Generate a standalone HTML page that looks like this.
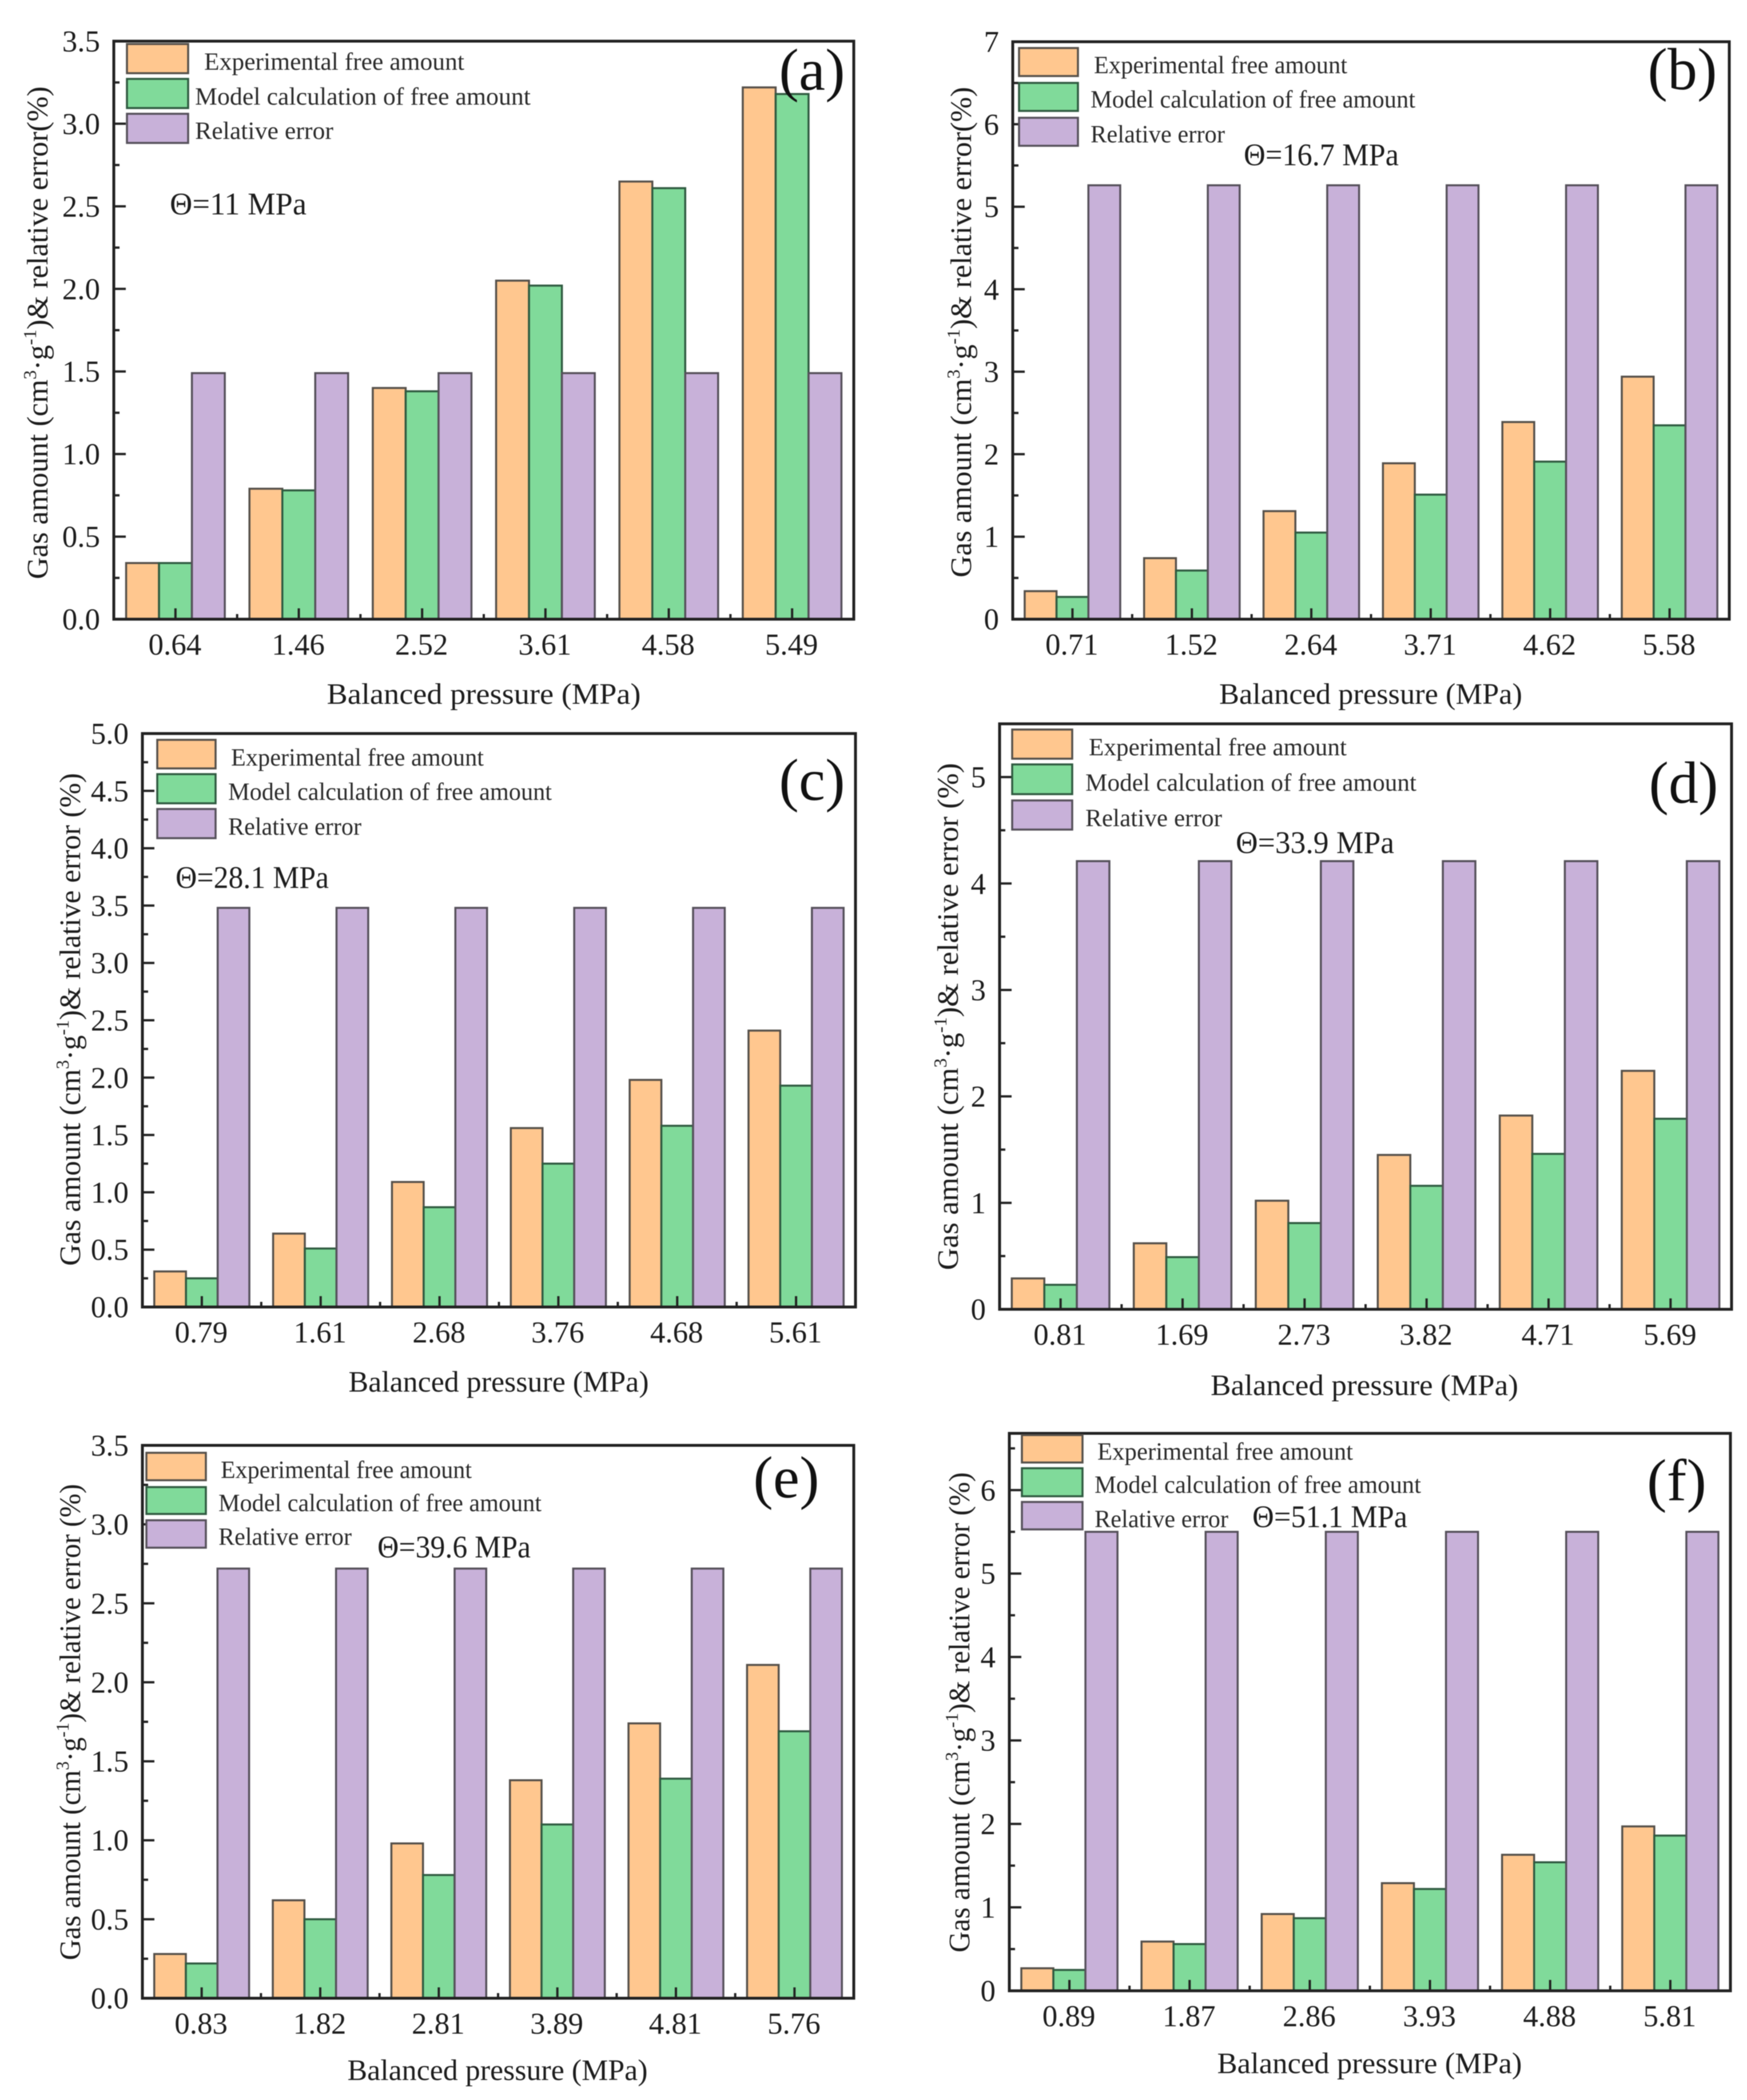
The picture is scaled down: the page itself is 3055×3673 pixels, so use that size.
<!DOCTYPE html>
<html lang="en">
<head>
<meta charset="utf-8">
<title>Gas amount and relative error versus balanced pressure</title>
<style>
html,body{margin:0;padding:0;background:#fff;}
svg{display:block;filter:blur(0.9px);}
text{font-family:"Liberation Serif","Times New Roman",serif;fill:#1c1c1c;}
.tick-label{font-size:53px;}
.axis-title{font-size:52px;}
.legend-text{font-size:43px;fill:#2a2a2a;}
.theta{font-size:55px;}
.panel-label{font-size:104px;fill:#111;}
.sup{font-size:32px;}
.exp{fill:#FFC78F;stroke:#55504a;stroke-width:3.5;}
.mod{fill:#80DA9A;stroke:#2f5a40;stroke-width:3.5;}
.err{fill:#C8B1D9;stroke:#55505a;stroke-width:3.5;}
.frame{fill:none;stroke:#222;stroke-width:5;}
.tick{stroke:#222;stroke-width:4;}
</style>
</head>
<body>
<svg id="figure" xmlns="http://www.w3.org/2000/svg" width="3055" height="3673" viewBox="0 0 3055 3673">
<rect width="3055" height="3673" fill="#fff"/>

<g>
<g id="marks-a"></g>
<g>
<rect class="exp" x="222" y="77" width="107" height="51"/>
<rect class="mod" x="222" y="138" width="107" height="51"/>
<rect class="err" x="222" y="199" width="107" height="51"/>
<text class="legend-text" x="357" y="122" textLength="455" lengthAdjust="spacingAndGlyphs">Experimental free amount</text>
<text class="legend-text" x="341" y="183" textLength="587" lengthAdjust="spacingAndGlyphs">Model calculation of free amount</text>
<text class="legend-text" x="341" y="243" textLength="242" lengthAdjust="spacingAndGlyphs">Relative error</text>
</g>
<text class="theta" x="297" y="375" textLength="239" lengthAdjust="spacingAndGlyphs">Θ=11 MPa</text>
<text class="panel-label" x="1420" y="157" text-anchor="middle">(a)</text>
<text class="axis-title" x="846" y="1231" text-anchor="middle" textLength="549" lengthAdjust="spacingAndGlyphs">Balanced pressure (MPa)</text>
<text class="axis-title" transform="translate(83,582) rotate(-90)" text-anchor="middle" textLength="862" lengthAdjust="spacingAndGlyphs">Gas amount (cm<tspan class="sup" dy="-20">3</tspan><tspan dy="20">·g</tspan><tspan class="sup" dy="-20">-1</tspan><tspan dy="20">)&amp; relative error(%)</tspan></text>
</g>

<g>
<g id="marks-b"></g>
<g>
<rect class="exp" x="1782" y="84" width="103" height="49"/>
<rect class="mod" x="1782" y="145" width="103" height="49"/>
<rect class="err" x="1782" y="206" width="103" height="49"/>
<text class="legend-text" x="1913" y="128" textLength="443" lengthAdjust="spacingAndGlyphs">Experimental free amount</text>
<text class="legend-text" x="1907" y="188" textLength="568" lengthAdjust="spacingAndGlyphs">Model calculation of free amount</text>
<text class="legend-text" x="1907" y="249" textLength="235" lengthAdjust="spacingAndGlyphs">Relative error</text>
</g>
<text class="theta" x="2175" y="289" textLength="271" lengthAdjust="spacingAndGlyphs">Θ=16.7 MPa</text>
<text class="panel-label" x="2942" y="156" text-anchor="middle">(b)</text>
<text class="axis-title" x="2397" y="1231" text-anchor="middle" textLength="530" lengthAdjust="spacingAndGlyphs">Balanced pressure (MPa)</text>
<text class="axis-title" transform="translate(1698,581) rotate(-90)" text-anchor="middle" textLength="858" lengthAdjust="spacingAndGlyphs">Gas amount (cm<tspan class="sup" dy="-20">3</tspan><tspan dy="20">·g</tspan><tspan class="sup" dy="-20">-1</tspan><tspan dy="20">)&amp; relative error(%)</tspan></text>
</g>

<g>
<g id="marks-c"></g>
<g>
<rect class="exp" x="275" y="1294" width="102" height="50"/>
<rect class="mod" x="275" y="1354" width="102" height="51"/>
<rect class="err" x="275" y="1415" width="102" height="51"/>
<text class="legend-text" x="404" y="1339" textLength="442" lengthAdjust="spacingAndGlyphs">Experimental free amount</text>
<text class="legend-text" x="399" y="1399" textLength="566" lengthAdjust="spacingAndGlyphs">Model calculation of free amount</text>
<text class="legend-text" x="399" y="1460" textLength="233" lengthAdjust="spacingAndGlyphs">Relative error</text>
</g>
<text class="theta" x="307" y="1553" textLength="268" lengthAdjust="spacingAndGlyphs">Θ=28.1 MPa</text>
<text class="panel-label" x="1420" y="1399" text-anchor="middle">(c)</text>
<text class="axis-title" x="872" y="2434" text-anchor="middle" textLength="525" lengthAdjust="spacingAndGlyphs">Balanced pressure (MPa)</text>
<text class="axis-title" transform="translate(140,1783) rotate(-90)" text-anchor="middle" textLength="862" lengthAdjust="spacingAndGlyphs">Gas amount (cm<tspan class="sup" dy="-20">3</tspan><tspan dy="20">·g</tspan><tspan class="sup" dy="-20">-1</tspan><tspan dy="20">)&amp; relative error (%)</tspan></text>
</g>

<g>
<g id="marks-d"></g>
<g>
<rect class="exp" x="1770" y="1276" width="105" height="51"/>
<rect class="mod" x="1770" y="1337" width="105" height="52"/>
<rect class="err" x="1770" y="1400" width="105" height="51"/>
<text class="legend-text" x="1904" y="1321" textLength="451" lengthAdjust="spacingAndGlyphs">Experimental free amount</text>
<text class="legend-text" x="1898" y="1383" textLength="579" lengthAdjust="spacingAndGlyphs">Model calculation of free amount</text>
<text class="legend-text" x="1898" y="1445" textLength="239" lengthAdjust="spacingAndGlyphs">Relative error</text>
</g>
<text class="theta" x="2161" y="1492" textLength="277" lengthAdjust="spacingAndGlyphs">Θ=33.9 MPa</text>
<text class="panel-label" x="2944" y="1404" text-anchor="middle">(d)</text>
<text class="axis-title" x="2386" y="2440" text-anchor="middle" textLength="538" lengthAdjust="spacingAndGlyphs">Balanced pressure (MPa)</text>
<text class="axis-title" transform="translate(1675,1778) rotate(-90)" text-anchor="middle" textLength="887" lengthAdjust="spacingAndGlyphs">Gas amount (cm<tspan class="sup" dy="-20">3</tspan><tspan dy="20">·g</tspan><tspan class="sup" dy="-20">-1</tspan><tspan dy="20">)&amp; relative error (%)</tspan></text>
</g>

<g>
<g id="marks-e"></g>
<g>
<rect class="exp" x="256" y="2541" width="104" height="48"/>
<rect class="mod" x="256" y="2601" width="104" height="47"/>
<rect class="err" x="256" y="2659" width="104" height="48"/>
<text class="legend-text" x="386" y="2585" textLength="439" lengthAdjust="spacingAndGlyphs">Experimental free amount</text>
<text class="legend-text" x="382" y="2643" textLength="565" lengthAdjust="spacingAndGlyphs">Model calculation of free amount</text>
<text class="legend-text" x="382" y="2702" textLength="233" lengthAdjust="spacingAndGlyphs">Relative error</text>
</g>
<text class="theta" x="660" y="2724" textLength="268" lengthAdjust="spacingAndGlyphs">Θ=39.6 MPa</text>
<text class="panel-label" x="1375" y="2619" text-anchor="middle">(e)</text>
<text class="axis-title" x="870" y="3638" text-anchor="middle" textLength="525" lengthAdjust="spacingAndGlyphs">Balanced pressure (MPa)</text>
<text class="axis-title" transform="translate(140,3012) rotate(-90)" text-anchor="middle" textLength="833" lengthAdjust="spacingAndGlyphs">Gas amount (cm<tspan class="sup" dy="-20">3</tspan><tspan dy="20">·g</tspan><tspan class="sup" dy="-20">-1</tspan><tspan dy="20">)&amp; relative error (%)</tspan></text>
</g>

<g>
<g id="marks-f"></g>
<g>
<rect class="exp" x="1787" y="2510" width="106" height="48"/>
<rect class="mod" x="1787" y="2568" width="106" height="49"/>
<rect class="err" x="1787" y="2627" width="106" height="48"/>
<text class="legend-text" x="1919" y="2553" textLength="447" lengthAdjust="spacingAndGlyphs">Experimental free amount</text>
<text class="legend-text" x="1914" y="2611" textLength="571" lengthAdjust="spacingAndGlyphs">Model calculation of free amount</text>
<text class="legend-text" x="1914" y="2671" textLength="234" lengthAdjust="spacingAndGlyphs">Relative error</text>
</g>
<text class="theta" x="2190" y="2671" textLength="271" lengthAdjust="spacingAndGlyphs">Θ=51.1 MPa</text>
<text class="panel-label" x="2932" y="2624" text-anchor="middle">(f)</text>
<text class="axis-title" x="2395" y="3626" text-anchor="middle" textLength="533" lengthAdjust="spacingAndGlyphs">Balanced pressure (MPa)</text>
<text class="axis-title" transform="translate(1695,2995) rotate(-90)" text-anchor="middle" textLength="840" lengthAdjust="spacingAndGlyphs">Gas amount (cm<tspan class="sup" dy="-20">3</tspan><tspan dy="20">·g</tspan><tspan class="sup" dy="-20">-1</tspan><tspan dy="20">)&amp; relative error (%)</tspan></text>
</g>
</svg>

<script>
// Panel (a)
const pressuresA = ['0.64', '1.46', '2.52', '3.61', '4.58', '5.49'];
const experimentalA = [0.34, 0.79, 1.40, 2.05, 2.65, 3.22];
const modelA = [0.34, 0.78, 1.38, 2.02, 2.61, 3.18];
const errorA = [1.49, 1.49, 1.49, 1.49, 1.49, 1.49];
const yTicksA = ['0.0', '0.5', '1.0', '1.5', '2.0', '2.5', '3.0', '3.5'];
// Panel (b)
const pressuresB = ['0.71', '1.52', '2.64', '3.71', '4.62', '5.58'];
const experimentalB = [0.34, 0.74, 1.31, 1.89, 2.39, 2.94];
const modelB = [0.27, 0.59, 1.05, 1.51, 1.91, 2.35];
const errorB = [5.26, 5.26, 5.26, 5.26, 5.26, 5.26];
const yTicksB = ['0', '1', '2', '3', '4', '5', '6', '7'];
// Panel (c)
const pressuresC = ['0.79', '1.61', '2.68', '3.76', '4.68', '5.61'];
const experimentalC = [0.31, 0.64, 1.09, 1.56, 1.98, 2.41];
const modelC = [0.25, 0.51, 0.87, 1.25, 1.58, 1.93];
const errorC = [3.48, 3.48, 3.48, 3.48, 3.48, 3.48];
const yTicksC = ['0.0', '0.5', '1.0', '1.5', '2.0', '2.5', '3.0', '3.5', '4.0', '4.5', '5.0'];
// Panel (d)
const pressuresD = ['0.81', '1.69', '2.73', '3.82', '4.71', '5.69'];
const experimentalD = [0.29, 0.62, 1.02, 1.45, 1.82, 2.24];
const modelD = [0.23, 0.49, 0.81, 1.16, 1.46, 1.79];
const errorD = [4.21, 4.21, 4.21, 4.21, 4.21, 4.21];
const yTicksD = ['0', '1', '2', '3', '4', '5'];
// Panel (e)
const pressuresE = ['0.83', '1.82', '2.81', '3.89', '4.81', '5.76'];
const experimentalE = [0.28, 0.62, 0.98, 1.38, 1.74, 2.11];
const modelE = [0.22, 0.50, 0.78, 1.10, 1.39, 1.69];
const errorE = [2.72, 2.72, 2.72, 2.72, 2.72, 2.72];
const yTicksE = ['0.0', '0.5', '1.0', '1.5', '2.0', '2.5', '3.0', '3.5'];
// Panel (f)
const pressuresF = ['0.89', '1.87', '2.86', '3.93', '4.88', '5.81'];
const experimentalF = [0.27, 0.59, 0.92, 1.29, 1.63, 1.97];
const modelF = [0.25, 0.56, 0.87, 1.22, 1.54, 1.86];
const errorF = [5.50, 5.50, 5.50, 5.50, 5.50, 5.50];
const yTicksF = ['0', '1', '2', '3', '4', '5', '6'];

const SVG_NS = 'http://www.w3.org/2000/svg';

const panels = [
  {id: 'a', left: 199, right: 1493, top: 72, bottom: 1083, yMax: 3.5, minorStep: 0.25, cats: pressuresA, exp: experimentalA, mod: modelA, err: errorA, ticks: yTicksA},
  {id: 'b', left: 1771, right: 3024, top: 73, bottom: 1083, yMax: 7, minorStep: 0.5, cats: pressuresB, exp: experimentalB, mod: modelB, err: errorB, ticks: yTicksB},
  {id: 'c', left: 249, right: 1496, top: 1283, bottom: 2286, yMax: 5, minorStep: 0.25, cats: pressuresC, exp: experimentalC, mod: modelC, err: errorC, ticks: yTicksC},
  {id: 'd', left: 1748, right: 3028, top: 1266, bottom: 2290, yMax: 5.5, minorStep: 0.5, cats: pressuresD, exp: experimentalD, mod: modelD, err: errorD, ticks: yTicksD},
  {id: 'e', left: 249, right: 1493, top: 2528, bottom: 3495, yMax: 3.5, minorStep: 0.25, cats: pressuresE, exp: experimentalE, mod: modelE, err: errorE, ticks: yTicksE},
  {id: 'f', left: 1765, right: 3026, top: 2507, bottom: 3482, yMax: 6.68, minorStep: 0.5, cats: pressuresF, exp: experimentalF, mod: modelF, err: errorF, ticks: yTicksF}
];

function make(tag, attrs) {
  const el = document.createElementNS(SVG_NS, tag);
  for (const k in attrs) el.setAttribute(k, attrs[k]);
  return el;
}

function drawPanel(p) {
  const root = document.getElementById('marks-' + p.id);
  const yScale = function (v) { return p.bottom - (v / p.yMax) * (p.bottom - p.top); };
  const period = (p.right - p.left) / p.cats.length;
  const barW = period * 0.2667;
  const xCenter = function (i) { return p.left + (i + 0.5) * period; };
  const seriesList = [
    {cls: 'exp', values: p.exp, offset: -1.5},
    {cls: 'mod', values: p.mod, offset: -0.5},
    {cls: 'err', values: p.err, offset: 0.5}
  ];

  seriesList.forEach(function (s) {
    s.values.forEach(function (v, i) {
      const el = make('rect', {
        'class': s.cls,
        x: xCenter(i) + s.offset * barW,
        y: yScale(v),
        width: barW,
        height: yScale(0) - yScale(v)
      });
      
      
      root.appendChild(el);
    });
  });

  const frame = make('rect', {
    'class': 'frame',
    x: p.left,
    y: p.top,
    width: p.right - p.left,
    height: p.bottom - p.top
  });
  
  
  root.appendChild(frame);

  // y major ticks and labels
  p.ticks.forEach(function (label) {
    const v = parseFloat(label);
    const y = yScale(v);
    const tick = make('line', {'class': 'tick', x1: p.left, x2: p.left + 21, y1: y, y2: y});
    
    
    root.appendChild(tick);
    const txt = make('text', {'class': 'tick-label', x: p.left - 24, y: y + 18, 'text-anchor': 'end'});
    txt.textContent = label;
    
    
    root.appendChild(txt);
  });

  // y minor ticks
  for (let m = 1; p.minorStep * (2 * m - 1) <= p.yMax; m++) {
    const y = yScale(p.minorStep * (2 * m - 1));
    const minor = make('line', {'class': 'tick', x1: p.left, x2: p.left + 10, y1: y, y2: y});
    
    
    root.appendChild(minor);
  }

  // x ticks and category labels
  p.cats.forEach(function (label, i) {
    const x = xCenter(i);
    const tick = make('line', {'class': 'tick', x1: x, x2: x, y1: p.bottom, y2: p.bottom - 19});
    
    
    root.appendChild(tick);
    const txt = make('text', {'class': 'tick-label', x: x - 1, y: p.bottom + 62, 'text-anchor': 'middle'});
    txt.textContent = label;
    
    
    root.appendChild(txt);
    if (i > 0) {
      const bx = x - period / 2;
      const minor = make('line', {'class': 'tick', x1: bx, x2: bx, y1: p.bottom, y2: p.bottom - 9});
      
      
      root.appendChild(minor);
    }
  });
}

panels.forEach(drawPanel);
</script>
</body>
</html>
